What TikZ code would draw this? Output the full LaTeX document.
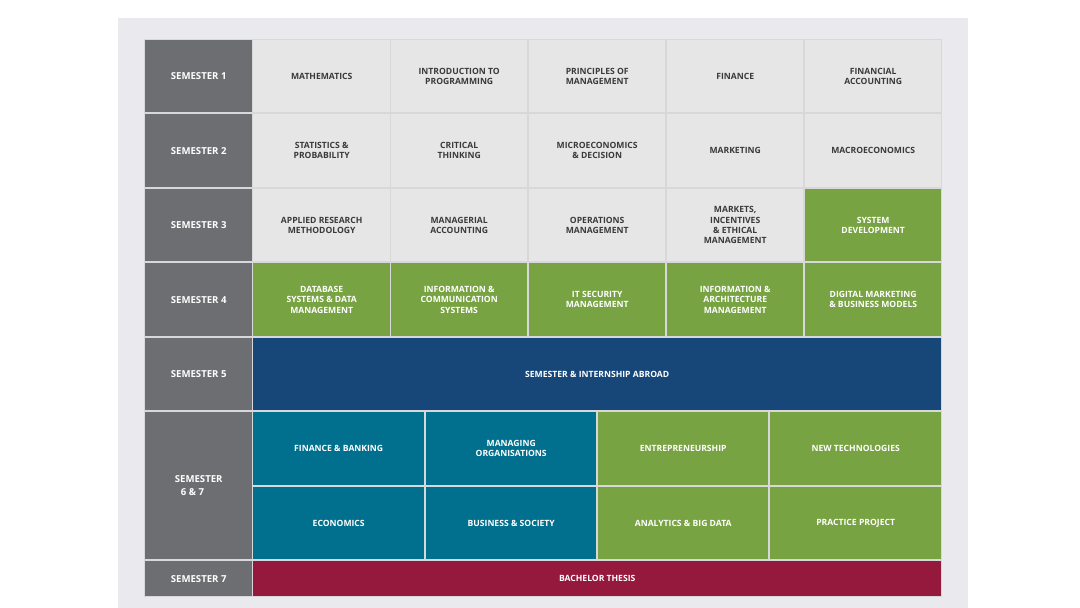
\documentclass[tikz,border=0pt]{standalone}
\usepackage{fontspec}
\setmainfont{Open Sans}
\definecolor{bgc}{HTML}{EAEAEE}
\definecolor{semc}{HTML}{6D6E71}
\definecolor{lgc}{HTML}{E6E6E7}
\definecolor{grc}{HTML}{78A342}
\definecolor{nvc}{HTML}{174678}
\definecolor{tlc}{HTML}{00708E}
\definecolor{mrc}{HTML}{94193C}
\definecolor{txc}{HTML}{3A3A3C}
\definecolor{gapc}{HTML}{D8D8DA}
\begin{document}
\begin{tikzpicture}[x=1pt,y=-1pt,
  cell/.style={anchor=north west,inner sep=0pt,align=center,font=\bfseries\fontsize{8.6}{10.4}\selectfont},
  lg/.style={cell,fill=lgc,text=txc},
  sem/.style={cell,fill=semc,text=white,font=\bfseries\fontsize{9.6}{12}\selectfont},
  gr/.style={cell,fill=grc,text=white},
  nv/.style={cell,fill=nvc,text=white},
  tl/.style={cell,fill=tlc,text=white},
  mr/.style={cell,fill=mrc,text=white}]
\useasboundingbox (0,0) rectangle (1080,608);
\fill[white] (0,0) rectangle (1080,608);
\fill[bgc] (118,18) rectangle (968,608);
\fill[gapc] (144,39) rectangle (942,597);
% semester column
\node[sem,minimum width=107,minimum height=72] (s1) at (145,40) {SEMESTER 1};
\node[sem,minimum width=107,minimum height=73] (s2) at (145,114) {SEMESTER 2};
\node[sem,minimum width=107,minimum height=72] (s3) at (145,189) {SEMESTER 3};
\node[sem,minimum width=107,minimum height=73] (s4) at (145,263) {SEMESTER 4};
\node[sem,minimum width=107,minimum height=72] (s5) at (145,338) {SEMESTER 5};
\node[sem,minimum width=107,minimum height=147,align=left] (s67) at (145,412) {SEMESTER\\[1pt]\hspace*{6pt}6 \& 7};
\node[sem,minimum width=107,minimum height=35] (s7) at (145,561) {SEMESTER 7};
% row 1
\node[lg,minimum width=137,minimum height=72] (a1) at (253,40) {MATHEMATICS};
\node[lg,minimum width=136,minimum height=72] (a2) at (391,40) {INTRODUCTION TO\\PROGRAMMING};
\node[lg,minimum width=136,minimum height=72] (a3) at (529,40) {PRINCIPLES OF\\MANAGEMENT};
\node[lg,minimum width=136,minimum height=72] (a4) at (667,40) {FINANCE};
\node[lg,minimum width=136,minimum height=72] (a5) at (805,40) {FINANCIAL\\ACCOUNTING};
% row 2
\node[lg,minimum width=137,minimum height=73] (b1) at (253,114) {STATISTICS \&\\PROBABILITY};
\node[lg,minimum width=136,minimum height=73] (b2) at (391,114) {CRITICAL\\THINKING};
\node[lg,minimum width=136,minimum height=73] (b3) at (529,114) {MICROECONOMICS\\\& DECISION};
\node[lg,minimum width=136,minimum height=73] (b4) at (667,114) {MARKETING};
\node[lg,minimum width=136,minimum height=73] (b5) at (805,114) {MACROECONOMICS};
% row 3
\node[lg,minimum width=137,minimum height=72] (c1) at (253,189) {APPLIED RESEARCH\\METHODOLOGY};
\node[lg,minimum width=136,minimum height=72] (c2) at (391,189) {MANAGERIAL\\ACCOUNTING};
\node[lg,minimum width=136,minimum height=72] (c3) at (529,189) {OPERATIONS\\MANAGEMENT};
\node[lg,minimum width=136,minimum height=72] (c4) at (667,189) {MARKETS,\\INCENTIVES\\\& ETHICAL\\MANAGEMENT};
\node[gr,minimum width=136,minimum height=72] (c5) at (805,189) {SYSTEM\\DEVELOPMENT};
% row 4
\node[gr,minimum width=137,minimum height=73] (d1) at (253,263) {DATABASE\\SYSTEMS \& DATA\\MANAGEMENT};
\node[gr,minimum width=136,minimum height=73] (d2) at (391,263) {INFORMATION \&\\COMMUNICATION\\SYSTEMS};
\node[gr,minimum width=136,minimum height=73] (d3) at (529,263) {IT SECURITY\\MANAGEMENT};
\node[gr,minimum width=136,minimum height=73] (d4) at (667,263) {INFORMATION \&\\ARCHITECTURE\\MANAGEMENT};
\node[gr,minimum width=136,minimum height=73] (d5) at (805,263) {DIGITAL MARKETING\\\& BUSINESS MODELS};
% row 5
\node[nv,minimum width=688,minimum height=72] (e1) at (253,338) {SEMESTER \& INTERNSHIP ABROAD};
% rows 6/7
\node[tl,minimum width=171,minimum height=73] (f1) at (253,412) {FINANCE \& BANKING};
\node[tl,minimum width=170,minimum height=73] (f2) at (426,412) {MANAGING\\ORGANISATIONS};
\node[gr,minimum width=170,minimum height=73] (f3) at (598,412) {ENTREPRENEURSHIP};
\node[gr,minimum width=171,minimum height=73] (f4) at (770,412) {NEW TECHNOLOGIES};
\node[tl,minimum width=171,minimum height=72] (g1) at (253,487) {ECONOMICS};
\node[tl,minimum width=170,minimum height=72] (g2) at (426,487) {BUSINESS \& SOCIETY};
\node[gr,minimum width=170,minimum height=72] (g3) at (598,487) {ANALYTICS \& BIG DATA};
\node[gr,minimum width=171,minimum height=72] (g4) at (770,487) {PRACTICE PROJECT};
% row thesis
\node[mr,minimum width=688,minimum height=35] (h1) at (253,561) {BACHELOR THESIS};
\end{tikzpicture}
\end{document}
